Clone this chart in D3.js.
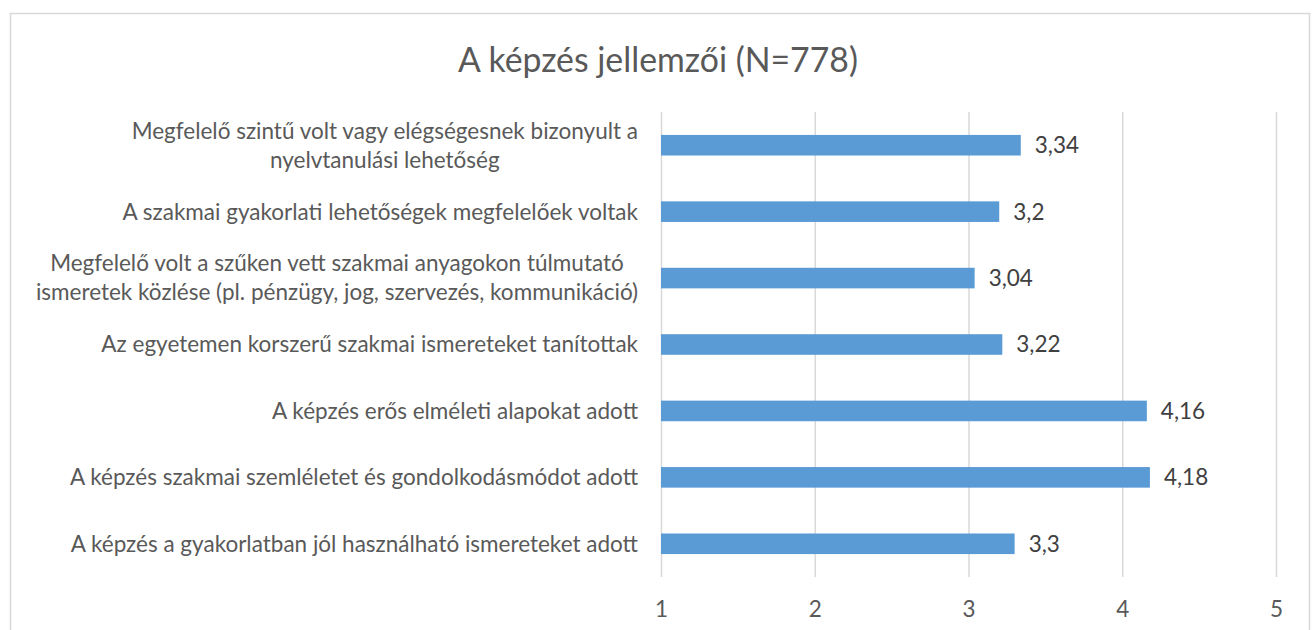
<!DOCTYPE html>
<html>
<head>
<meta charset="utf-8">
<script src="https://cdn.jsdelivr.net/npm/d3@7"></script>
<style>
  body { margin: 0; background: #fff; }
  svg { display: block; font-family: Lato, "Open Sans", sans-serif; }
</style>
</head>
<body>
<div id="chart"></div>
<script>
// data, top to bottom
const categories = [
  ["Megfelelő szintű volt vagy elégségesnek bizonyult a", "nyelvtanulási lehetőség"],
  ["A szakmai gyakorlati lehetőségek megfelelőek voltak"],
  ["Megfelelő volt a szűken vett szakmai anyagokon túlmutató", "ismeretek közlése (pl. pénzügy, jog, szervezés, kommunikáció)"],
  ["Az egyetemen korszerű szakmai ismereteket tanítottak"],
  ["A képzés erős elméleti alapokat adott"],
  ["A képzés szakmai szemléletet és gondolkodásmódot adott"],
  ["A képzés a gyakorlatban jól használható ismereteket adott"]
];
const values = [3.34, 3.2, 3.04, 3.22, 4.16, 4.18, 3.3];
const tickValues = [1, 2, 3, 4, 5];
const title = "A képzés jellemzői (N=778)";

const W = 1312, H = 630;
const fontSize = "22.5px";
const svg = d3.select("#chart").append("svg")
  .attr("width", W)
  .attr("height", H);

// chart frame
svg.append("rect")
  .attr("x", 10.5).attr("y", 13.5)
  .attr("width", 1299).attr("height", 640)
  .attr("fill", "#fff")
  .attr("stroke", "#d9d9d9")
  .attr("stroke-width", 1.5);

svg.append("text")
  .attr("x", 658).attr("y", 72)
  .attr("text-anchor", "middle")
  .attr("fill", "#595959")
  .style("font-size", "33.8px")
  .text(title);

const keys = categories.map(d => d.join(" "));
const x = d3.scaleLinear().domain([1, 5]).range([661, 1276]);
const y = d3.scaleBand().domain(keys).range([112, 577])
  .paddingInner(0.69).paddingOuter(0.345);

// gridlines
const grid = svg.append("g").attr("transform", "translate(0,112)")
  .call(d3.axisBottom(x).tickValues(tickValues).tickSize(577 - 112).tickFormat(""));
grid.select(".domain").remove();
grid.selectAll("line").attr("stroke", "#d9d9d9").attr("stroke-width", 1.5);

// tick labels
const ax = svg.append("g").attr("transform", "translate(0,577)")
  .call(d3.axisBottom(x).tickValues(tickValues).tickSize(0).tickPadding(24).tickFormat(d3.format("d")));
ax.select(".domain").remove();
ax.selectAll("text")
  .attr("fill", "#595959")
  .style("font-size", fontSize)
  .style("font-family", "Lato, sans-serif");

// bars
svg.append("g").selectAll("rect")
  .data(values)
  .join("rect")
  .attr("x", x(1))
  .attr("y", (d, i) => y(keys[i]))
  .attr("width", d => x(d) - x(1))
  .attr("height", y.bandwidth())
  .attr("fill", "#5b9bd5");

// value labels
svg.append("g").selectAll("text")
  .data(values)
  .join("text")
  .attr("x", d => x(d) + 14)
  .attr("y", (d, i) => y(keys[i]) + y.bandwidth() / 2)
  .attr("dy", "0.35em")
  .attr("fill", "#404040")
  .style("font-size", fontSize)
  .text(d => String(d).replace(".", ","));

// category labels
const labelRight = 638;
const lineH = 29;
const cat = svg.append("g").selectAll("g")
  .data(categories)
  .join("g")
  .attr("transform", (d, i) => `translate(0,${y(keys[i]) + y.bandwidth() / 2})`);

cat.each(function(lines) {
  const g = d3.select(this);
  const texts = g.selectAll("text")
    .data(lines)
    .join("text")
    .attr("y", (d, j) => (j - (lines.length - 1) / 2) * lineH)
    .attr("dy", "0.35em")
    .attr("fill", "#595959")
    .style("font-size", fontSize)
    .text(d => d);
  if (lines.length === 1) {
    texts.attr("x", labelRight).attr("text-anchor", "end");
  } else {
    let maxW = 0;
    texts.each(function() { maxW = Math.max(maxW, this.getComputedTextLength()); });
    texts.attr("x", labelRight - maxW / 2).attr("text-anchor", "middle");
  }
});
</script>
</body>
</html>
